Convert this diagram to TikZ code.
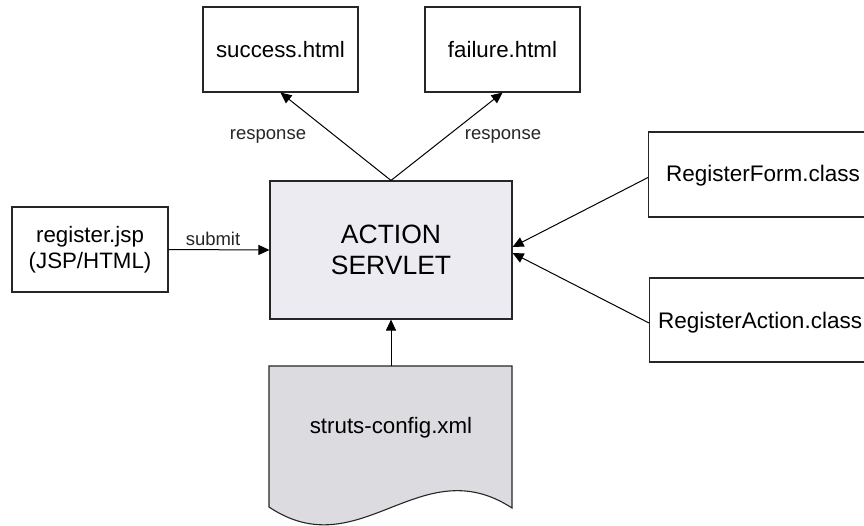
\documentclass[tikz,border=0pt]{standalone}
\usepackage{fontspec}
\setmainfont{Liberation Sans}
\usetikzlibrary{arrows.meta}
\definecolor{servletfill}{HTML}{ECEBF1}
\definecolor{docfill}{HTML}{DCDCE0}
\begin{document}
\begin{tikzpicture}[x=1pt,y=-1pt,
  box/.style={draw=black!85, line width=1.1pt, fill=white, inner sep=0pt, align=center, font=\fontsize{22.3}{26}\selectfont},
  conn/.style={line width=1pt, -{Triangle[length=11pt,width=10pt]}},
  lbl/.style={font=\fontsize{18.5}{21}\selectfont, text=black!85}]
\useasboundingbox (0,0) rectangle (864,526);
\fill[white] (0,0) rectangle (864,526);
% nodes
\node[box, minimum width=155pt, minimum height=85pt] (success) at (280.5,49.5) {success.html};
\node[box, minimum width=155pt, minimum height=85pt] (failure) at (502.5,49.5) {failure.html};
\node[box, minimum width=156pt, minimum height=85pt] (register) at (90,249.5) {register.jsp\\(JSP/HTML)};
\node[box, fill=servletfill, minimum width=242pt, minimum height=138pt, font=\fontsize{26.5}{31}\selectfont] (servlet) at (391,250) {ACTION\\SERVLET};
\node[box, minimum width=230pt, minimum height=85pt, anchor=west] (form) at (648,174.5) {};
\node[box, minimum width=230pt, minimum height=84pt, anchor=west] (action) at (649,320) {};
\node[font=\fontsize{22.5}{26}\selectfont, anchor=west, inner sep=0pt] (formtxt) at (666,176) {RegisterForm.class};
\node[font=\fontsize{22.5}{26}\selectfont, anchor=west, inner sep=0pt] (actiontxt) at (658,323) {RegisterAction.class};
% document shape
\draw[line width=1.1pt, draw=black!85, fill=docfill] (269,366) -- (512,366) -- (512,508)
  .. controls (420,448) and (360,568) .. (269,507) -- cycle;
\coordinate (doctop) at (391,366);
\node[font=\fontsize{22.3}{26}\selectfont] (doctxt) at (391,428) {struts-config.xml};
% connectors
\draw[conn] (servlet.north) -- (success.south);
\draw[conn] (servlet.north) -- (failure.south);
\draw[conn] (register.east) -- (servlet.west);
\draw[conn] ([yshift=-3pt]form.west) -- ([yshift=3pt]servlet.east);
\draw[conn] ([yshift=-3pt]action.west) -- ([yshift=-3pt]servlet.east);
\draw[conn] (doctop) -- (servlet.south);
% labels
\node[lbl] (resp1) at (268,136) {response};
\node[lbl] (resp2) at (503,136) {response};
\node[lbl] (submit) at (213,239) {submit};
\end{tikzpicture}
\end{document}
